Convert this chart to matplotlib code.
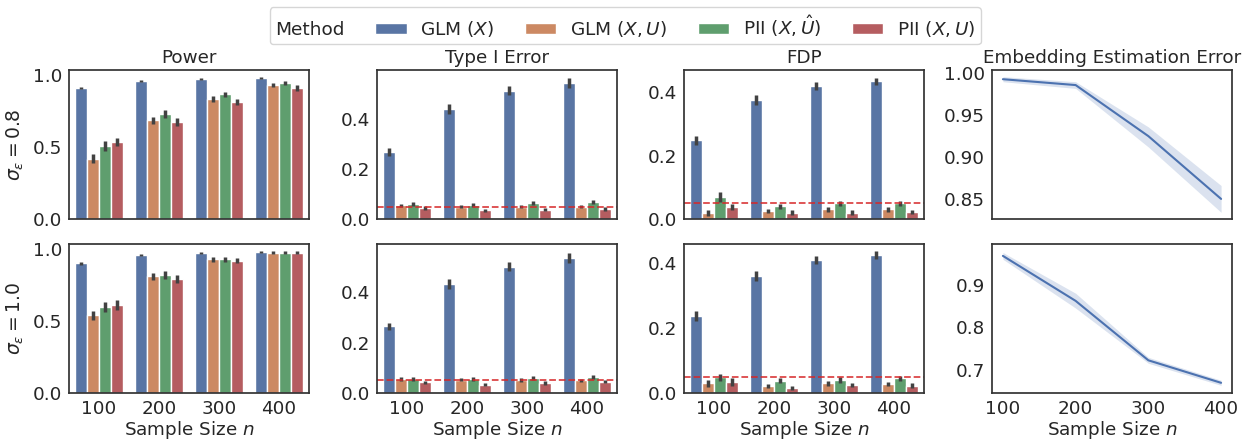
import numpy as np
import matplotlib
matplotlib.use("agg")
import matplotlib.pyplot as plt
from matplotlib.patches import Patch
import seaborn as sns

sns.set_theme(style="white")
plt.rcParams["font.family"] = ["DejaVu Sans"]

methods = ["GLM ($X$)", "GLM ($X,U$)", r"PII ($X,\hat{U}$)", "PII ($X,U$)"]
sizes = [100, 200, 300, 400]
sigmas = ["0.8", "1.0"]

# rows: sigma 0.8 / 1.0 ; inner lists: method, then n = 100..400
power = [
    [[0.91, 0.96, 0.975, 0.98], [0.42, 0.685, 0.835, 0.93],
     [0.51, 0.73, 0.865, 0.945], [0.535, 0.675, 0.815, 0.91]],
    [[0.90, 0.96, 0.975, 0.98], [0.54, 0.81, 0.93, 0.975],
     [0.595, 0.82, 0.93, 0.975], [0.61, 0.79, 0.92, 0.975]],
]
power_err = [
    [[0.01, 0.008, 0.007, 0.005], [0.03, 0.025, 0.02, 0.015],
     [0.035, 0.03, 0.02, 0.015], [0.03, 0.03, 0.022, 0.018]],
    [[0.01, 0.008, 0.007, 0.005], [0.03, 0.025, 0.018, 0.01],
     [0.035, 0.025, 0.018, 0.01], [0.035, 0.028, 0.02, 0.01]],
]
type1 = [
    [[0.268, 0.44, 0.513, 0.545], [0.055, 0.05, 0.05, 0.05],
     [0.06, 0.056, 0.065, 0.068], [0.045, 0.035, 0.038, 0.04]],
    [[0.265, 0.432, 0.503, 0.538], [0.055, 0.053, 0.052, 0.05],
     [0.057, 0.055, 0.06, 0.063], [0.042, 0.033, 0.04, 0.045]],
]
type1_err = [
    [[0.015, 0.02, 0.018, 0.02], [0.007, 0.006, 0.007, 0.006],
     [0.008, 0.007, 0.008, 0.008], [0.007, 0.007, 0.007, 0.007]],
    [[0.015, 0.02, 0.018, 0.02], [0.007, 0.006, 0.007, 0.006],
     [0.008, 0.007, 0.008, 0.008], [0.007, 0.007, 0.007, 0.007]],
]
fdp = [
    [[0.248, 0.375, 0.419, 0.434], [0.019, 0.025, 0.03, 0.03],
     [0.069, 0.04, 0.05, 0.05], [0.038, 0.02, 0.02, 0.022]],
    [[0.237, 0.362, 0.41, 0.426], [0.03, 0.022, 0.03, 0.028],
     [0.048, 0.038, 0.04, 0.045], [0.035, 0.016, 0.025, 0.023]],
]
fdp_err = [
    [[0.015, 0.015, 0.012, 0.012], [0.01, 0.007, 0.007, 0.007],
     [0.015, 0.008, 0.008, 0.008], [0.01, 0.007, 0.007, 0.007]],
    [[0.015, 0.015, 0.012, 0.012], [0.01, 0.007, 0.007, 0.007],
     [0.01, 0.008, 0.008, 0.008], [0.012, 0.007, 0.007, 0.007]],
]
emb = [[0.993, 0.986, 0.925, 0.85], [0.968, 0.862, 0.722, 0.669]]
emb_lo = [[0.990, 0.982, 0.912, 0.834], [0.960, 0.845, 0.715, 0.663]]
emb_hi = [[0.996, 0.990, 0.936, 0.866], [0.976, 0.880, 0.729, 0.675]]

alpha_level = 0.05

titles = ["Power", "Type I Error", "FDP", "Embedding Estimation Error"]
palette = sns.color_palette("deep", 4)
bar_colors = [sns.desaturate(c, 0.75) for c in palette]

fig = plt.figure(figsize=(12.56, 4.47), dpi=100)
W, H = 1256, 447
lefts = [69, 377, 684, 992]
tops = [70, 244]
aw, ah = 240, 149
fs = 13.2

ylims = {
    "Power": [(0, 1.035), (0, 1.035)],
    "Type I Error": [(0, 0.596), (0, 0.593)],
    "FDP": [(0, 0.47), (0, 0.46)],
}
yticks = {
    "Power": [0.0, 0.5, 1.0],
    "Type I Error": [0.0, 0.2, 0.4],
    "FDP": [0.0, 0.2, 0.4],
}


def draw_bars(ax, vals, errs):
    x = np.arange(len(sizes))
    w = 0.8 / len(methods)
    for k in range(len(methods)):
        xs = x - 0.4 + w * (k + 0.5)
        ax.bar(xs, vals[k], width=w, color=bar_colors[k], edgecolor="white", linewidth=1.0)
        for xi, v, e in zip(xs, vals[k], errs[k]):
            ax.plot([xi, xi], [v - e, v + e], color=".26", lw=2.5, solid_capstyle="butt")
    ax.set_xlim(-0.5, 3.5)
    ax.set_xticks(x)
    ax.set_xticklabels([str(s) for s in sizes])


data = {"Power": (power, power_err), "Type I Error": (type1, type1_err), "FDP": (fdp, fdp_err)}

for r in range(2):
    for c in range(4):
        rect = [lefts[c] / W, 1 - (tops[r] + ah) / H, aw / W, ah / H]
        ax = fig.add_axes(rect)
        t = titles[c]
        if c < 3:
            vals, errs = data[t]
            draw_bars(ax, vals[r], errs[r])
            ax.set_ylim(*ylims[t][r])
            ax.set_yticks(yticks[t])
            if t != "Power":
                ax.axhline(alpha_level, color="#d62728", ls="--", lw=1.3, alpha=0.85)
        else:
            ax.plot(sizes, emb[r], color=palette[0], lw=1.5)
            ax.fill_between(sizes, emb_lo[r], emb_hi[r], color=palette[0], alpha=0.2, lw=0)
            ax.set_xlim(85, 415)
            ax.set_xticks(sizes)
            if r == 0:
                ax.set_ylim(0.826, 1.004)
                ax.set_yticks([0.85, 0.90, 0.95, 1.00])
                ax.set_yticklabels(["0.85", "0.90", "0.95", "1.00"])
            else:
                ax.set_ylim(0.645, 0.996)
                ax.set_yticks([0.7, 0.8, 0.9])
        for sp in ax.spines.values():
            sp.set_color(".2")
            sp.set_linewidth(1.25)
        ax.tick_params(labelsize=fs, colors=".15", length=0, pad=5)
        if r == 0:
            ax.set_title(t, fontsize=fs, color=".15", pad=5)
            ax.set_xticklabels([])
        else:
            ax.set_xlabel("Sample Size $n$", fontsize=fs, color=".15", labelpad=1)
        if c == 0:
            ax.set_ylabel(r"$\sigma_\varepsilon = %s$" % sigmas[r], fontsize=13.5, color=".15", labelpad=5)

handles = [Patch(facecolor=bar_colors[k], edgecolor="white", label=methods[k]) for k in range(4)]
leg = fig.legend(handles=handles, title="Method", loc="upper center", bbox_to_anchor=(0.498, 1.004),
                 ncol=4, fontsize=13.3, title_fontsize=13.3, handlelength=1.7, handleheight=0.55,
                 handletextpad=0.75, columnspacing=1.65, frameon=True, edgecolor="0.8",
                 borderpad=0.3)
for txt in leg.get_texts() + [leg.get_title()]:
    txt.set_color(".15")
vbox = leg._legend_box
title_box, handle_box = vbox.get_children()
handle_box.get_children().insert(0, title_box)
vbox.get_children().remove(title_box)

fig.savefig("out.png", dpi=100)
